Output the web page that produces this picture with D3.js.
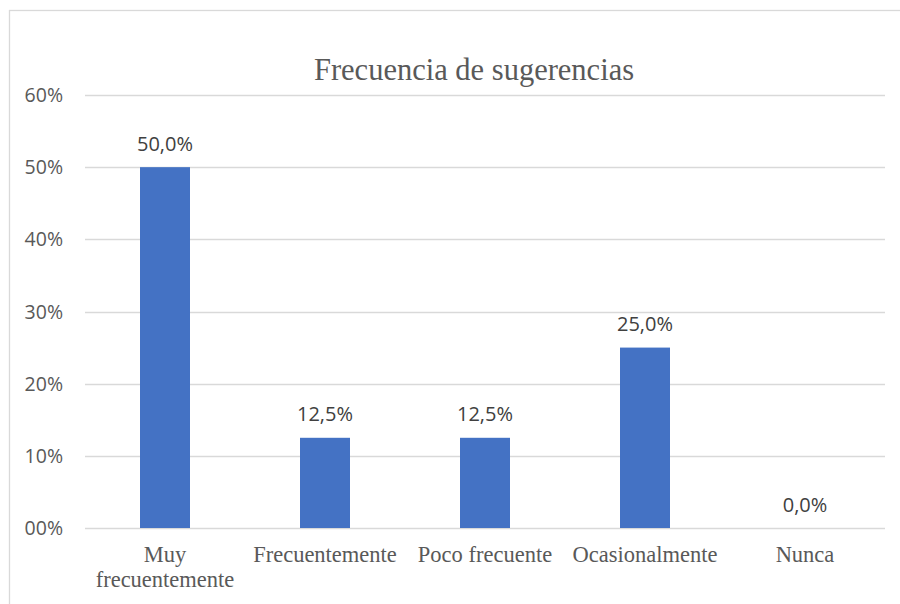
<!DOCTYPE html>
<html>
<head>
<meta charset="utf-8">
<script src="https://cdn.jsdelivr.net/npm/d3@7"></script>
<style>
  html, body { margin: 0; padding: 0; background: #fff; }
  svg { display: block; }
</style>
</head>
<body>
<svg id="chart" width="900" height="604"></svg>
<script>
const categories = ['Muy frecuentemente', 'Frecuentemente', 'Poco frecuente', 'Ocasionalmente', 'Nunca']
const values = [50.0, 12.5, 12.5, 25.0, 0.0]
const yTicks = [0, 10, 20, 30, 40, 50, 60]
const yTickLabels = ['00%', '10%', '20%', '30%', '40%', '50%', '60%']
const title = 'Frecuencia de sugerencias'

const W = 900, H = 604
const margin = { top: 95, right: 15, bottom: 76, left: 85 }
const textColor = '#595959'
const gridColor = '#d9d9d9'
const barColor = '#4472c4'

const svg = d3.select('#chart')

// chart frame (only the top and left edges show in the picture)
svg.append('rect')
  .attr('x', 9.5).attr('y', 10.5)
  .attr('width', W + 20).attr('height', H + 20)
  .attr('fill', '#fff')
  .attr('stroke', gridColor).attr('stroke-width', 1.3)

const x = d3.scaleBand()
  .domain(categories)
  .range([margin.left, W - margin.right])
  .paddingInner(0.6875)
  .paddingOuter(0.34375)

const y = d3.scaleLinear()
  .domain([0, 60])
  .range([H - margin.bottom, margin.top])

const g = svg.append('g')

// gridlines
g.selectAll('line.grid')
  .data(yTicks)
  .join('line')
  .attr('class', 'grid')
  .attr('x1', margin.left).attr('x2', W - margin.right)
  .attr('y1', d => Math.round(y(d)) + 0.5).attr('y2', d => Math.round(y(d)) + 0.5)
  .attr('stroke', gridColor).attr('stroke-width', 1.5)

// y tick labels
g.selectAll('text.ytick')
  .data(yTicks)
  .join('text')
  .attr('class', 'ytick')
  .attr('x', 63)
  .attr('y', d => y(d))
  .attr('dy', '0.36em')
  .attr('text-anchor', 'end')
  .attr('font-family', '"Open Sans", sans-serif')
  .attr('font-size', 19.5)
  .attr('fill', textColor)
  .text((d, i) => yTickLabels[i])

// bars
g.selectAll('rect.bar')
  .data(categories)
  .join('rect')
  .attr('class', 'bar')
  .attr('x', d => x(d))
  .attr('width', x.bandwidth())
  .attr('y', (d, i) => y(values[i]))
  .attr('height', (d, i) => y(0) - y(values[i]))
  .attr('fill', barColor)

// data labels
const fmt = v => v.toFixed(1).replace('.', ',') + '%'
g.selectAll('text.label')
  .data(categories)
  .join('text')
  .attr('class', 'label')
  .attr('x', d => x(d) + x.bandwidth() / 2)
  .attr('y', (d, i) => y(values[i]) - 16.5)
  .attr('text-anchor', 'middle')
  .attr('font-family', '"Open Sans", sans-serif')
  .attr('font-size', 20)
  .attr('fill', '#404040')
  .text((d, i) => fmt(values[i]))

// category labels, wrapped when wider than the band step
const cat = g.selectAll('text.cat')
  .data(categories)
  .join('text')
  .attr('class', 'cat')
  .attr('x', d => x(d) + x.bandwidth() / 2)
  .attr('y', 562)
  .attr('text-anchor', 'middle')
  .attr('font-family', '"Liberation Serif", "Times New Roman", serif')
  .attr('font-size', 22.5)
  .attr('fill', textColor)

cat.each(function (d) {
  const el = d3.select(this)
  const cx = +el.attr('x')
  const words = d.split(' ')
  let line = []
  let tspan = el.append('tspan').attr('x', cx).attr('dy', 0)
  words.forEach(w => {
    line.push(w)
    tspan.text(line.join(' '))
    if (tspan.node().getComputedTextLength() > x.step() - 4 && line.length > 1) {
      line.pop()
      tspan.text(line.join(' '))
      line = [w]
      tspan = el.append('tspan').attr('x', cx).attr('dy', 25).text(w)
    }
  })
})

// title
svg.append('text')
  .attr('x', 474)
  .attr('y', 80)
  .attr('text-anchor', 'middle')
  .attr('font-family', '"Liberation Serif", "Times New Roman", serif')
  .attr('font-size', 30.5)
  .attr('fill', textColor)
  .text(title)
</script>
</body>
</html>
